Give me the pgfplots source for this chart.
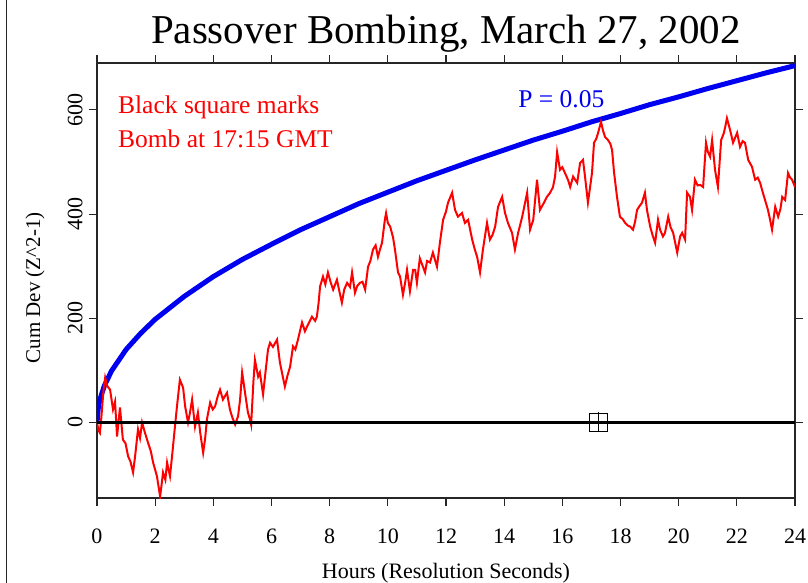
\documentclass[border=0pt]{standalone}
\usepackage{fontspec}
\setmainfont{Liberation Serif}
\usepackage{pgfplots}
\pgfplotsset{compat=1.18}
\definecolor{cumred}{HTML}{FF0000}
\definecolor{pblue}{HTML}{0000F0}

\begin{document}
\begin{tikzpicture}
\begin{axis}[
    scale only axis,
    width=698pt,
    height=435pt,
    xmin=0, xmax=24,
    ymin=-145, ymax=690,
    xtick={0,2,...,24},
    ytick={0,200,400,600},
    tick align=outside,
    major tick length=8pt,
    axis line style={line width=1.1pt, black!85},
    every tick/.style={line width=1.1pt, black!85},
    /pgf/number format/assume math mode=true,
    ticklabel style={font=\fontsize{22}{26}\selectfont},
    xticklabel style={yshift=-19pt},
    yticklabel style={rotate=90, anchor=south, outer sep=3pt},
    title={Passover Bombing, March 27, 2002},
    title style={font=\fontsize{41}{48}\selectfont,
        at={(axis description cs:0.5,1.053)}, anchor=center},
    xlabel={Hours (Resolution Seconds)},
    xlabel style={font=\fontsize{22}{26}\selectfont,
        at={(axis description cs:0.5,-0.172)}, anchor=center},
    ylabel={Cum Dev (Z\^{}2-1)},
    ylabel style={font=\fontsize{21}{24}\selectfont,
        at={(axis description cs:-0.0888,0.483)}, anchor=center, rotate=0},
]

% P = 0.05 envelope
\addplot[pblue, line width=5pt] coordinates {
    (0,0) (0.05,31) (0.1,44) (0.25,70) (0.5,99) (1,140) (1.5,171)
    (2,198) (3,242) (4,280) (5,313) (6,342) (7,370) (8,395) (9,420)
    (10,442) (11,464) (12,484) (13,504) (14,523) (15,542) (16,559)
    (17,577) (18,593) (19,610) (20,625) (21,641) (22,656) (23,671) (24,685)
};

% cumulative deviation
\addplot[cumred, line width=2pt] coordinates {
    (0,0) (0.05,-15) (0.1,-20) (0.15,10) (0.22,60) (0.28,86) (0.35,70)
    (0.45,63) (0.55,25) (0.62,40) (0.69,-27) (0.79,29) (0.89,-33)
    (0.98,-40) (1.07,-65) (1.15,-75) (1.24,-96) (1.31,-65) (1.41,-13)
    (1.48,-30) (1.55,0) (1.65,-20) (1.75,-38) (1.85,-55) (1.93,-77)
    (2.06,-103) (2.17,-142) (2.22,-120) (2.27,-96) (2.35,-110) (2.41,-77)
    (2.51,-103) (2.58,-65) (2.68,-8) (2.75,31) (2.85,82) (2.96,67)
    (3.03,31) (3.13,0) (3.2,20) (3.27,44) (3.37,-8) (3.47,19) (3.55,-20)
    (3.65,-58) (3.72,-30) (3.78,6) (3.89,38) (3.98,25) (4.06,31)
    (4.15,50) (4.23,63) (4.33,44) (4.47,57) (4.57,25) (4.65,10)
    (4.75,-4) (4.85,12) (4.92,44) (4.99,96) (5.09,57) (5.19,19)
    (5.26,6) (5.3,-4) (5.38,80) (5.43,120) (5.54,88) (5.6,96) (5.71,54)
    (5.8,100) (5.88,140) (5.95,153) (6.05,145) (6.19,159) (6.29,115)
    (6.38,90) (6.46,69) (6.55,90) (6.64,107) (6.74,146) (6.82,140)
    (6.91,159) (7.05,192) (7.15,175) (7.22,184) (7.39,203) (7.5,195)
    (7.56,203) (7.62,230) (7.67,261) (7.77,280) (7.85,265) (7.94,288)
    (8.03,270) (8.12,255) (8.25,274) (8.34,250) (8.42,230) (8.5,255)
    (8.6,268) (8.7,260) (8.77,288) (8.87,249) (8.95,262) (9.04,268)
    (9.13,270) (9.22,255) (9.32,299) (9.4,310) (9.49,332) (9.58,340)
    (9.66,318) (9.73,332) (9.8,345) (9.9,390) (9.94,402) (10.0,383)
    (10.08,376) (10.18,355) (10.25,330) (10.35,288) (10.42,280)
    (10.52,245) (10.6,270) (10.66,293) (10.76,252) (10.87,293)
    (10.94,293) (11.0,268) (11.1,315) (11.2,300) (11.28,288) (11.35,310)
    (11.45,307) (11.55,326) (11.69,299) (11.79,345) (11.9,389) (12.0,405)
    (12.07,422) (12.21,441) (12.31,408) (12.41,395) (12.55,402)
    (12.65,383) (12.76,389) (12.9,351) (13.0,330) (13.07,318) (13.17,288)
    (13.27,332) (13.41,383) (13.51,351) (13.6,360) (13.69,376) (13.79,414)
    (13.93,433) (14.03,402) (14.13,383) (14.27,364) (14.37,332)
    (14.48,364) (14.62,395) (14.79,441) (14.89,370) (15.0,389) (15.13,466)
    (15.23,408) (15.35,420) (15.47,433) (15.58,441) (15.68,452)
    (15.75,472) (15.82,519) (15.92,485) (16.0,490) (16.09,479) (16.2,465)
    (16.27,452) (16.37,472) (16.51,460) (16.61,498) (16.71,504)
    (16.78,472) (16.88,422) (16.95,450) (17.02,479) (17.09,537)
    (17.17,545) (17.23,556) (17.33,577) (17.4,560) (17.47,548) (17.57,542)
    (17.65,535) (17.71,523) (17.78,479) (17.88,433) (17.98,395)
    (18.08,390) (18.16,383) (18.25,378) (18.33,376) (18.43,370) (18.5,385)
    (18.57,408) (18.65,415) (18.74,422) (18.84,441) (18.91,408)
    (19.02,376) (19.1,360) (19.19,345) (19.29,389) (19.36,370) (19.46,357)
    (19.53,364) (19.64,395) (19.72,375) (19.81,364) (19.95,326)
    (20.05,357) (20.12,364) (20.22,351) (20.29,441) (20.39,433)
    (20.46,408) (20.56,466) (20.65,455) (20.74,456) (20.84,452)
    (20.94,537) (21.0,520) (21.08,510) (21.15,542) (21.25,485) (21.35,452)
    (21.46,542) (21.55,555) (21.6,567) (21.66,584) (21.77,561) (21.87,537)
    (22.01,556) (22.11,529) (22.2,540) (22.28,537) (22.39,504) (22.52,491)
    (22.63,466) (22.72,470) (22.8,460) (22.9,440) (22.97,427) (23.07,408)
    (23.14,390) (23.21,370) (23.32,414) (23.42,395) (23.5,410) (23.56,433)
    (23.66,427) (23.76,479) (23.83,470) (23.9,466) (24.0,452)
};

% zero line
\addplot[black, line width=2.5pt] coordinates {(0,0) (24,0)};

% bomb marker at 17:15 GMT
\addplot[black, only marks, mark=square, mark size=9pt,
    mark options={line width=1pt}] coordinates {(17.25,0)};
\addplot[black, only marks, mark=|, mark size=10pt,
    mark options={line width=1pt}] coordinates {(17.25,0)};

\node[anchor=base west, inner sep=0pt, text=cumred, font=\fontsize{25.5}{28}\selectfont]
    at (axis cs:0.72,594) {Black square marks};
\node[anchor=base west, inner sep=0pt, text=cumred, font=\fontsize{25.5}{28}\selectfont]
    at (axis cs:0.72,527) {Bomb at 17:15 GMT};
\node[anchor=base west, inner sep=0pt, text=pblue, font=\fontsize{25.5}{28}\selectfont]
    at (axis cs:14.48,604) {P = 0.05};
\end{axis}
\draw[black!85, line width=1pt]
    ([xshift=-90pt,yshift=-85pt]current axis.south west) --
    ([xshift=-90pt,yshift=63pt]current axis.north west);
\pgfresetboundingbox
\path[use as bounding box]
    ([xshift=-97pt,yshift=-85pt]current axis.south west) rectangle
    ([xshift=13pt,yshift=63pt]current axis.north east);
\end{tikzpicture}
\end{document}
